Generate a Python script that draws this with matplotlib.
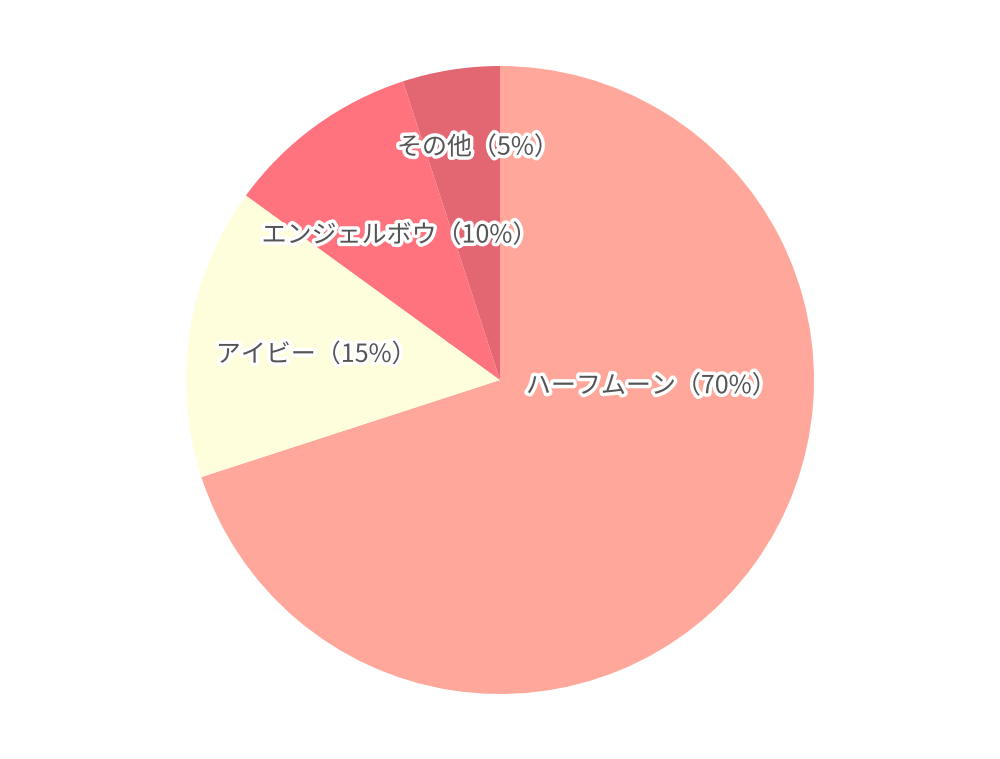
import matplotlib
matplotlib.use('Agg')
import matplotlib.pyplot as plt
import matplotlib.patheffects as pe

plt.rcParams['font.family'] = ['Noto Sans CJK JP', 'DejaVu Sans']

# data
labels = ['ハーフムーン', 'アイビー', 'エンジェルボウ', 'その他']
shares = [70, 15, 10, 5]
colors = ['#FFA79A', '#FFFEDC', '#FF737F', '#E36673']

# where each label sits, in pie units (radius = 1)
label_pos = [(0.482, -0.02), (-0.585, 0.08), (-0.32, 0.46), (-0.07, 0.74)]

fig = plt.figure(figsize=(10, 7.59), dpi=100)
ax = fig.add_axes([0, 0, 1, 1])

ax.pie(shares, colors=colors, startangle=90, counterclock=False,
       radius=1, wedgeprops=dict(linewidth=0))

ax.set_aspect('equal')
# pie centre at (500, 380) px, radius 314 px
r = 314
ax.set_xlim(-500 / r, 500 / r)
ax.set_ylim(-(759 - 380) / r, 380 / r)
ax.set_axis_off()

for name, pct, (x, y) in zip(labels, shares, label_pos):
    ax.text(x, y, f'{name}（{pct}%）', ha='center', va='center',
            fontsize=18, color='#555555',
            path_effects=[pe.withStroke(linewidth=5, foreground='white')])

plt.savefig('out.png', dpi=100)
